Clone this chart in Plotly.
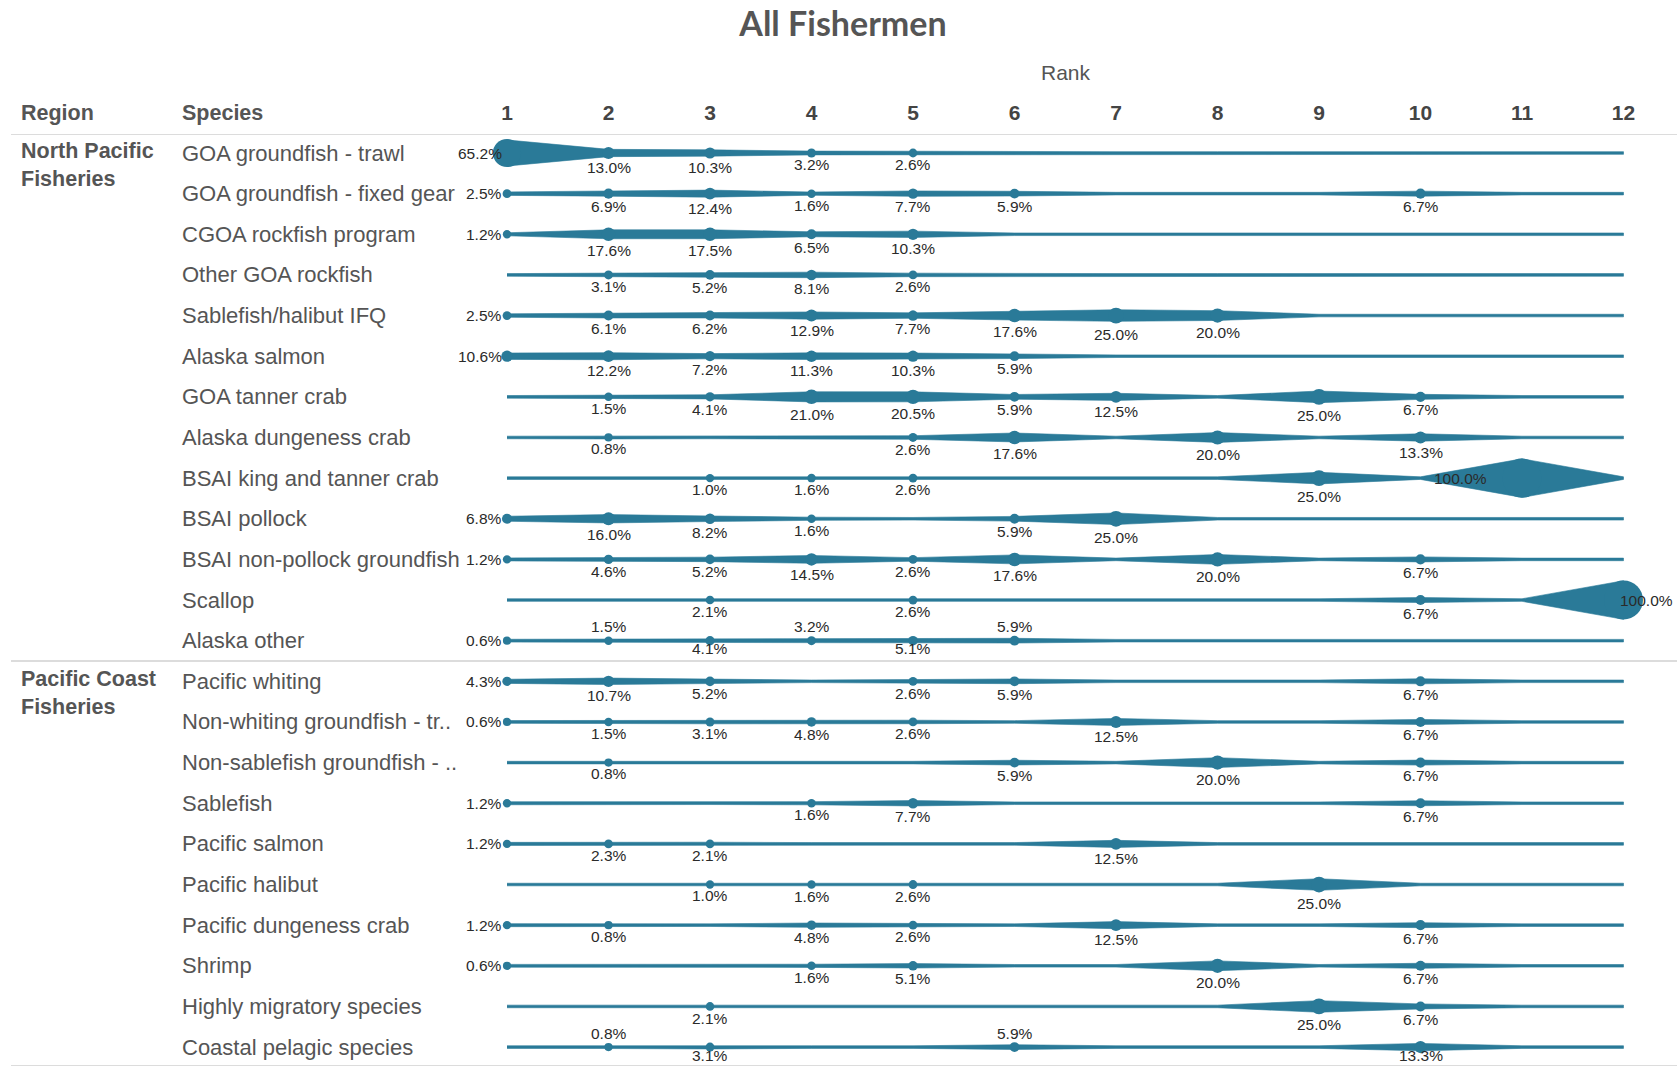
import plotly.graph_objects as go

# ---------------- data ----------------
title_text = "All Fishermen"
ranks = list(range(1, 13))
rank_labels = [str(r) for r in ranks]

regions = ["North Pacific<br>Fisheries", "Pacific Coast<br>Fisheries"]

north_pacific_species = [
    "GOA groundfish - trawl",
    "GOA groundfish - fixed gear",
    "CGOA rockfish program",
    "Other GOA rockfish",
    "Sablefish/halibut IFQ",
    "Alaska salmon",
    "GOA tanner crab",
    "Alaska dungeness crab",
    "BSAI king and tanner crab",
    "BSAI pollock",
    "BSAI non-pollock groundfish",
    "Scallop",
    "Alaska other",
]
pacific_coast_species = [
    "Pacific whiting",
    "Non-whiting groundfish - tr..",
    "Non-sablefish groundfish - ..",
    "Sablefish",
    "Pacific salmon",
    "Pacific halibut",
    "Pacific dungeness crab",
    "Shrimp",
    "Highly migratory species",
    "Coastal pelagic species",
]

N = None
# percent of fishermen per rank (ranks 1..12), None = no value
north_pacific_values = [
    [65.2, 13.0, 10.3, 3.2, 2.6, N, N, N, N, N, N, N],
    [2.5, 6.9, 12.4, 1.6, 7.7, 5.9, N, N, N, 6.7, N, N],
    [1.2, 17.6, 17.5, 6.5, 10.3, N, N, N, N, N, N, N],
    [N, 3.1, 5.2, 8.1, 2.6, N, N, N, N, N, N, N],
    [2.5, 6.1, 6.2, 12.9, 7.7, 17.6, 25.0, 20.0, N, N, N, N],
    [10.6, 12.2, 7.2, 11.3, 10.3, 5.9, N, N, N, N, N, N],
    [N, 1.5, 4.1, 21.0, 20.5, 5.9, 12.5, N, 25.0, 6.7, N, N],
    [N, 0.8, N, N, 2.6, 17.6, N, 20.0, N, 13.3, N, N],
    [N, N, 1.0, 1.6, 2.6, N, N, N, 25.0, N, 100.0, N],
    [6.8, 16.0, 8.2, 1.6, N, 5.9, 25.0, N, N, N, N, N],
    [1.2, 4.6, 5.2, 14.5, 2.6, 17.6, N, 20.0, N, 6.7, N, N],
    [N, N, 2.1, N, 2.6, N, N, N, N, 6.7, N, 100.0],
    [0.6, 1.5, 4.1, 3.2, 5.1, 5.9, N, N, N, N, N, N],
]
pacific_coast_values = [
    [4.3, 10.7, 5.2, N, 2.6, 5.9, N, N, N, 6.7, N, N],
    [0.6, 1.5, 3.1, 4.8, 2.6, N, 12.5, N, N, 6.7, N, N],
    [N, 0.8, N, N, N, 5.9, N, 20.0, N, 6.7, N, N],
    [1.2, N, N, 1.6, 7.7, N, N, N, N, 6.7, N, N],
    [1.2, 2.3, 2.1, N, N, N, 12.5, N, N, N, N, N],
    [N, N, 1.0, 1.6, 2.6, N, N, N, 25.0, N, N, N],
    [1.2, 0.8, N, 4.8, 2.6, N, 12.5, N, N, 6.7, N, N],
    [0.6, N, N, 1.6, 5.1, N, N, 20.0, N, 6.7, N, N],
    [N, N, 2.1, N, N, N, N, N, 25.0, 6.7, N, N],
    [N, 0.8, 3.1, N, N, 5.9, N, N, N, 13.3, N, N],
]

species = north_pacific_species + pacific_coast_species
values = north_pacific_values + pacific_coast_values
region_first_rows = [0, len(north_pacific_species)]
region_last_rows = [len(north_pacific_species) - 1, len(species) - 1]

# ---------------- layout geometry (pixels) ----------------
W, H = 1677, 1075
ML, MT, MB, MR = 440, 134, 9, 0
RANK_PX = 101.5      # px per rank
ROW_PX = 40.64       # px per row
RANK1_X = 507        # pixel x of rank 1
ROW0_Y = 153         # pixel y of first row

x0 = 1 - (RANK1_X - ML) / RANK_PX
x1 = x0 + (W - ML - MR) / RANK_PX
y_top = -(ROW0_Y - MT) / ROW_PX
y_bot = y_top + (H - MT - MB) / ROW_PX

def px_to_paper_x(px):
    return (px - ML) / (W - ML - MR)

COLOR = "#2a7a98"
FONT = "Liberation Sans, Arial, sans-serif"

def ribbon_w(v):      # full ribbon thickness in px
    return 2.6 + 36.0 * ((v or 0) / 100.0)

def marker_d(v):
    return 8.0 + 31.0 * (v / 100.0)

fig = go.Figure()

# ribbons
for i, row in enumerate(values):
    hw = [ribbon_w(v) / 2 / ROW_PX for v in row]
    xs = ranks + ranks[::-1]
    ys = [i - h for h in hw] + [i + h for h in hw[::-1]]
    fig.add_trace(go.Scatter(
        x=xs, y=ys, fill="toself", fillcolor=COLOR, mode="lines",
        line=dict(width=0.6, color=COLOR), hoverinfo="skip", showlegend=False))

# markers
mx, my, ms, mt = [], [], [], []
for i, row in enumerate(values):
    for r, v in zip(ranks, row):
        if v is not None:
            mx.append(r); my.append(i); ms.append(marker_d(v)); mt.append(f"{species[i]}: {v:.1f}%")
fig.add_trace(go.Scatter(
    x=mx, y=my, mode="markers",
    marker=dict(size=ms, color=COLOR, opacity=1, line=dict(width=0)),
    text=mt, hoverinfo="text", showlegend=False))

annotations = []
label_font = dict(family=FONT, size=15.5, color="#2a2a2a")

# value labels
for i, row in enumerate(values):
    is_last = i in region_last_rows
    k = 0
    for r, v in zip(ranks, row):
        if v is None:
            continue
        txt = f"{v:.1f}%"
        a = dict(x=r, y=i, xref="x", yref="y", text=txt, showarrow=False,
                 font=label_font, yanchor="middle")
        if r == 1:
            a.update(xanchor="right", xshift=-3)
        elif v >= 99 and r == ranks[-1]:
            a.update(xanchor="left", xshift=-6)
        elif v >= 99:
            a.update(xanchor="right", xshift=-33)
        else:
            a.update(xanchor="center")
            if is_last:
                a.update(yshift=14 if k % 2 == 0 else -8)
            else:
                a.update(yshift=-(11 + 0.3 * v))
            k += 1
        annotations.append(a)

# species labels
for i, s in enumerate(species):
    annotations.append(dict(
        x=px_to_paper_x(180), y=i, xref="paper", yref="y", text=s,
        showarrow=False, xanchor="left", yanchor="middle",
        font=dict(family=FONT, size=22, color="#555555")))

# region labels
for reg, r0 in zip(regions, region_first_rows):
    annotations.append(dict(
        x=px_to_paper_x(19), y=r0, xref="paper", yref="y", text=f"<b>{reg}</b>",
        showarrow=False, xanchor="left", yanchor="top", align="left", yshift=16,
        font=dict(family=FONT, size=21.5, color="#555555")))

# headers
for txt, px in [("Region", 19), ("Species", 180)]:
    annotations.append(dict(
        x=px_to_paper_x(px), y=1 + (MT - 113) / (H - MT - MB), xref="paper", yref="paper",
        text=f"<b>{txt}</b>", showarrow=False, xanchor="left", yanchor="middle",
        font=dict(family=FONT, size=21.5, color="#555555")))
annotations.append(dict(
    x=px_to_paper_x(1066), y=1 + (MT - 72) / (H - MT - MB), xref="paper", yref="paper",
    text="Rank", showarrow=False, xanchor="center", yanchor="middle",
    font=dict(family=FONT, size=21, color="#555555")))

# separators
shapes = []
sep_x0 = px_to_paper_x(11)
for yv in [y_top, (region_last_rows[0] + region_first_rows[1]) / 2, y_bot]:
    shapes.append(dict(type="line", xref="paper", yref="y", x0=sep_x0, x1=1,
                       y0=yv, y1=yv, line=dict(color="#dcdcdc", width=2), layer="below"))

fig.update_layout(
    width=W, height=H,
    margin=dict(l=ML, r=MR, t=MT, b=MB, pad=0),
    paper_bgcolor="white", plot_bgcolor="white",
    title=dict(text=f"<b>{title_text}</b>", x=843 / W, y=1 - 24 / H,
               xref="container", yref="container", xanchor="center", yanchor="middle",
               font=dict(family="Lato, " + FONT, size=34, color="#555555")),
    xaxis=dict(range=[x0, x1], side="top", tickmode="array", tickvals=ranks,
               ticktext=[f"<b>{t}</b>" for t in rank_labels],
               tickfont=dict(family=FONT, size=21, color="#444444"),
               showgrid=False, zeroline=False, showline=False, ticks="",
               ticklabelstandoff=9),
    yaxis=dict(range=[y_bot, y_top], showgrid=False, zeroline=False,
               showline=False, showticklabels=False, ticks=""),
    annotations=annotations, shapes=shapes,
    hovermode="closest",
)

fig.write_html("out.html", config={"displayModeBar": False},
               post_script="document.body.style.margin='0';document.body.style.overflow='hidden';")
